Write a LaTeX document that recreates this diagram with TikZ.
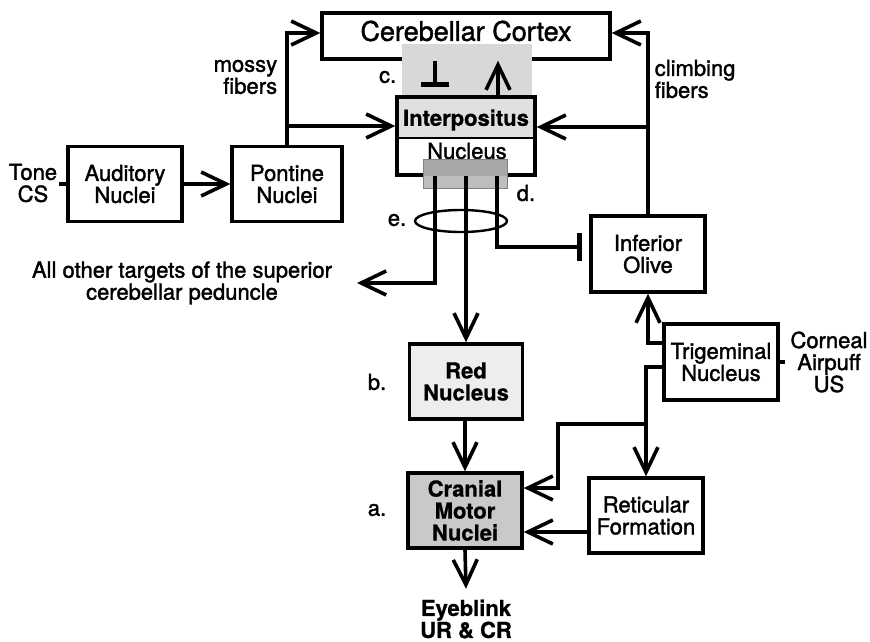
\documentclass[tikz,border=0pt]{standalone}
\usepackage{fontspec}
\setmainfont{TeX Gyre Heros}[FakeBold=1.6]
\newfontfamily\heavy{TeX Gyre Heros Bold}[FakeBold=0.8]
\usetikzlibrary{arrows.meta,shapes.geometric}
\definecolor{cgray}{HTML}{D8D8D8}
\definecolor{igray}{HTML}{E0E0E0}
\definecolor{rgray}{HTML}{EDEDED}
\definecolor{mgray}{HTML}{C9C9C9}
\definecolor{dgrayA}{HTML}{A8A8A8}
\definecolor{dgrayB}{HTML}{BEBEBE}
\begin{document}
\begin{tikzpicture}[x=1pt,y=-1pt,
  line width=3.6pt,
  txt/.style={font=\fontsize{22}{22}\selectfont, align=center, inner sep=0pt},
  btxt/.style={font=\fontsize{22}{22}\selectfont\heavy, align=center, inner sep=0pt},
  box/.style={draw, line width=3.4pt, minimum width=#1, minimum height=75pt, inner sep=0pt,
              font=\fontsize{22}{22}\selectfont, align=center},
  arr/.style={-{Straight Barb[length=25pt,width=24pt,line width=3.6pt]}},
  inh/.style={-{Bar[width=28pt,line width=5pt]}}
]
\useasboundingbox (0,0) rectangle (870,642);

% cerebellar cortex
\node[draw, line width=3.4pt, minimum width=288pt, minimum height=46pt] (cortex) at (466,36) {};
\fill[cgray] (402,44) rectangle (532,97);
\node[font=\fontsize{27}{27}\selectfont, inner sep=0pt] (cortextext) at (466,31) {Cerebellar Cortex};

% interpositus
\fill[igray] (397,97) rectangle (535,138);
\draw[line width=1.4pt] (397,138) -- (535,138);
\node[draw, line width=3.4pt, minimum width=138pt, minimum height=78pt] (interp) at (466,136) {};
\node[btxt] (interptext) at (466,120) {Interpositus};
\node[txt] (nuctext) at (467,151) {Nucleus};

% region d
\fill[dgrayA] (423,159) rectangle (507,176);
\fill[dgrayB] (423,176) rectangle (507,188);
\draw[line width=0.6pt, gray] (423,159) rectangle (507,188);

% boxes
\node[box=114pt] (aud) at (125,184) {Auditory\\Nuclei};
\node[box=110pt] (pont) at (287,184) {Pontine\\Nuclei};
\node[box=114pt, minimum height=76pt] (olive) at (648,254) {Inferior\\Olive};
\node[box=114pt, minimum height=76pt] (trig) at (721,362) {Trigeminal\\Nucleus};
\node[box=113pt, fill=rgray, font=\fontsize{22}{22}\selectfont\heavy] (red) at (466,381.5) {Red\\Nucleus};
\node[box=114pt, fill=mgray, font=\fontsize{22}{22}\selectfont\heavy] (cran) at (465,510.5) {Cranial\\Motor\\Nuclei};
\node[box=114pt] (retic) at (646,515.5) {Reticular\\Formation};

% text labels
\node[txt] (tone) at (33,183) {Tone\\CS};
\node[txt] (corneal) at (829,362) {Corneal\\Airpuff\\US};
\node[txt, align=right, anchor=east] (mossy) at (279,77) {mossy\\fibers};
\node[txt, align=left, anchor=west] (climb) at (653,79) {climbing\\fibers};
\node[txt] (other) at (182,283) {All other targets of the superior\\cerebellar peduncle};
\node[btxt] (eye) at (466,619) {Eyeblink\\UR \& CR};
\node[txt, anchor=east] (lc) at (398,77) {c.};
\node[txt, anchor=east] (lb) at (388,382) {b.};
\node[txt, anchor=east] (la) at (388,510) {a.};
\node[txt, anchor=west] (ld) at (515,193) {d.};
\node[txt, anchor=east] (le) at (408,220) {e.};

% ellipse e
\node[draw, ellipse, line width=2.4pt, minimum width=92pt, minimum height=22pt, inner sep=0pt] (eset) at (461,221) {};

% coordinates
\coordinate (d1) at (435,176);
\coordinate (d2) at (466,176);
\coordinate (d3) at (497,176);
\coordinate (othertip) at (357,283);
\coordinate (inhib) at (582,247);
\coordinate (mb) at (287,126);
\coordinate (cb) at (647,127);
\coordinate (ctop) at (0,33);
\coordinate (tbar) at (435,87);
\coordinate (tb) at (558,424);
\coordinate (ta) at (0,488);
\coordinate (rt) at (0,532);

% inputs
\draw (tone.east |- aud.west) -- (aud.west);
\draw[arr] (aud.east) -- (pont.west);
\draw (trig.east) -- ([xshift=-4pt]corneal.west |- trig.east);

% mossy fibers
\draw[arr] (pont.north) |- (cortex.west |- ctop);
\draw[arr] (pont.north |- mb) -- (interp.west |- mb);

% climbing fibers
\draw[arr] (olive.north) |- (cortex.east |- ctop);
\draw[arr] (olive.north |- cb) -- (interp.east |- cb);

% region c
\draw[inh] (cortex.south -| tbar) -- (tbar);
\draw[arr] (interp.north -| 498,0) -- (cortex.south -| 498,0);

% outputs of d
\draw[arr] (d1) |- (othertip);
\draw[arr] (d2) -- (d2 |- red.north);
\draw[inh] (d3) |- (inhib);

% lower pathway
\draw[arr] (red.south -| cran.north) -- (cran.north);
\draw[arr] (cran.south) -- ([yshift=9pt]eye.north);

% trigeminal
\draw[arr] ([yshift=19pt]trig.west) -| (olive.south);
\draw[arr] ([yshift=-5pt]trig.west) -| (retic.north);
\draw[arr] (retic.north |- tb) -| (tb |- ta) -- (cran.east |- ta);
\draw[arr] (retic.west |- rt) -- (cran.east |- rt);
\end{tikzpicture}
\end{document}
